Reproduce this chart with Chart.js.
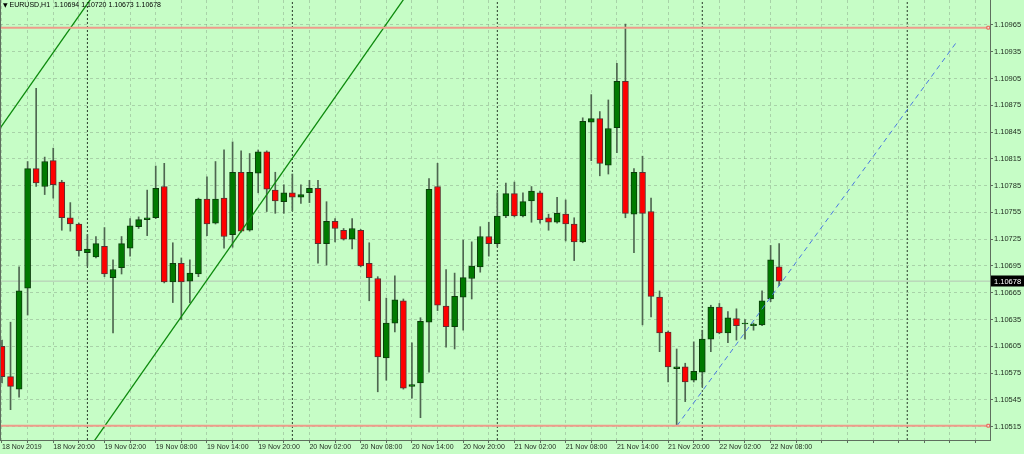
<!DOCTYPE html>
<html>
<head>
<meta charset="utf-8">
<script src="https://cdn.jsdelivr.net/npm/chart.js@4.4.0/dist/chart.umd.min.js"></script>
<style>
  html, body { margin: 0; padding: 0; background: #c6fdc6; }
  #wrap { position: relative; width: 1024px; height: 454px; overflow: hidden; }
  #title { position: absolute; left: 3px; top: 1px; font: 7px "Liberation Sans", sans-serif; color: #000; white-space: pre; }
  #title .arr { font: 6px "DejaVu Sans", sans-serif; }
</style>
</head>
<body>
<div id="wrap">
  <canvas id="chart" width="1024" height="454"></canvas>
  <div id="title"><span class="arr">▼</span> EURUSD,H1  1.10694 1.10720 1.10673 1.10678</div>
</div>
<script>
// EURUSD H1, bars from 18 Nov 2019 14:00 to 22 Nov 09:00
const opens = [1.10605,1.10571,1.10557,1.10670,1.10804,1.10784,1.10813,1.10789,1.10749,1.10742,
  1.10710,1.10705,1.10717,1.10682,1.10693,1.10715,1.10739,1.10747,1.10749,1.10784,
  1.10677,1.10698,1.10678,1.10686,1.10770,1.10743,1.10771,1.10730,1.10800,1.10735,
  1.10799,1.10823,1.10780,1.10767,1.10777,1.10772,1.10777,1.10782,1.10720,1.10745,
  1.10735,1.10725,1.10735,1.10698,1.10681,1.10592,1.10631,1.10656,1.10560,1.10564,
  1.10632,1.10784,1.10650,1.10627,1.10660,1.10681,1.10694,1.10728,1.10720,1.10751,
  1.10776,1.10751,1.10768,1.10777,1.10749,1.10744,1.10753,1.10742,1.10722,1.10856,
  1.10860,1.10808,1.10850,1.10902,1.10753,1.10800,1.10756,1.10660,1.10621,1.10580,
  1.10582,1.10567,1.10576,1.10613,1.10649,1.10620,1.10636,1.10630,1.10628,1.10629,
  1.10658,1.10694];
const highs = [1.10612,1.10632,1.10694,1.10812,1.10894,1.10817,1.10827,1.10791,1.10766,1.10743,
  1.10730,1.10728,1.10738,1.10702,1.10728,1.10748,1.10750,1.10780,1.10807,1.10810,
  1.10721,1.10704,1.10702,1.10771,1.10795,1.10812,1.10825,1.10834,1.10824,1.10821,
  1.10825,1.10824,1.10800,1.10786,1.10798,1.10786,1.10791,1.10791,1.10767,1.10748,
  1.10737,1.10748,1.10736,1.10721,1.10683,1.10659,1.10684,1.10658,1.10609,1.10637,
  1.10793,1.10810,1.10691,1.10687,1.10724,1.10722,1.10739,1.10744,1.10777,1.10788,
  1.10789,1.10777,1.10784,1.10779,1.10753,1.10772,1.10769,1.10749,1.10861,1.10887,
  1.10868,1.10881,1.10922,1.10966,1.10804,1.10818,1.10771,1.10667,1.10622,1.10602,
  1.10586,1.10610,1.10623,1.10651,1.10653,1.10644,1.10647,1.10635,1.10631,1.10667,
  1.10718,1.10720];
const lows = [1.10564,1.10534,1.10548,1.10640,1.10784,1.10775,1.10771,1.10735,1.10734,1.10706,
  1.10695,1.10704,1.10683,1.10620,1.10686,1.10706,1.10737,1.10729,1.10748,1.10676,
  1.10654,1.10635,1.10654,1.10683,1.10729,1.10742,1.10715,1.10716,1.10733,1.10734,
  1.10777,1.10756,1.10754,1.10754,1.10757,1.10765,1.10766,1.10698,1.10696,1.10722,
  1.10724,1.10714,1.10694,1.10656,1.10554,1.10567,1.10621,1.10557,1.10547,1.10525,
  1.10576,1.10645,1.10604,1.10602,1.10623,1.10658,1.10688,1.10706,1.10717,1.10749,
  1.10750,1.10750,1.10744,1.10743,1.10735,1.10743,1.10723,1.10701,1.10721,1.10813,
  1.10796,1.10798,1.10822,1.10749,1.10710,1.10629,1.10638,1.10599,1.10565,1.10516,
  1.10543,1.10565,1.10560,1.10599,1.10619,1.10609,1.10612,1.10613,1.10623,1.10628,
  1.10655,1.10673];
const closes = [1.10571,1.10560,1.10667,1.10804,1.10788,1.10812,1.10786,1.10749,1.10742,1.10712,
  1.10714,1.10720,1.10686,1.10691,1.10720,1.10740,1.10747,1.10749,1.10782,1.10677,
  1.10698,1.10677,1.10687,1.10770,1.10742,1.10770,1.10728,1.10800,1.10734,1.10800,
  1.10823,1.10781,1.10768,1.10777,1.10772,1.10775,1.10782,1.10720,1.10745,1.10737,
  1.10725,1.10737,1.10695,1.10682,1.10593,1.10631,1.10657,1.10558,1.10562,1.10633,
  1.10781,1.10651,1.10627,1.10661,1.10682,1.10695,1.10728,1.10720,1.10751,1.10776,
  1.10751,1.10767,1.10779,1.10747,1.10744,1.10754,1.10742,1.10722,1.10857,1.10860,
  1.10810,1.10849,1.10902,1.10754,1.10800,1.10754,1.10661,1.10620,1.10582,1.10582,
  1.10565,1.10577,1.10613,1.10649,1.10620,1.10637,1.10628,1.10630,1.10630,1.10656,
  1.10702,1.10678];

// time axis labels (bar index -> text), every 6 bars
const labelBars = [0,6,12,18,24,30,36,42,48,54,60,66,72,78,84,90];
const labelTexts = ['18 Nov 2019','18 Nov 20:00','19 Nov 02:00','19 Nov 08:00','19 Nov 14:00',
  '19 Nov 20:00','20 Nov 02:00','20 Nov 08:00','20 Nov 14:00','20 Nov 20:00','21 Nov 02:00',
  '21 Nov 08:00','21 Nov 14:00','21 Nov 20:00','22 Nov 02:00','22 Nov 08:00'];
const gridBars = [];
for (let i = 0; i <= 114; i += 3) gridBars.push(i);

const priceTicks = [1.10515,1.10545,1.10575,1.10605,1.10635,1.10665,1.10695,1.10725,
  1.10755,1.10785,1.10815,1.10845,1.10875,1.10905,1.10935,1.10965];

// day separators (bar index of 00:00)
const daySeps = [10, 34, 58, 82, 106];
// horizontal levels and trend lines (bar index, price)
const levels = [1.10962, 1.10516];
const channelUpper = [{x: -2, y: 1.10825}, {x: 12, y: 1.11016}];
const channelLower = [{x: 10, y: 1.10488}, {x: 48, y: 1.11007}];
const blueTrend = [{x: 79.04, y: 1.10516}, {x: 111.94, y: 1.10948}];

const xMin = -0.234, xMax = 115.69;
const yMin = 1.10500, yMax = 1.10993;
const bid = closes[closes.length - 1];

const bullCol = '#007a00', bearCol = '#ff0000';
const fnt = { family: 'Liberation Sans', size: 7.5 };

const datasets = [];
datasets.push({
  type: 'bar', label: 'body', order: 1, grouped: false,
  data: opens.map((o, i) => ({x: i, y: [o, closes[i]]})),
  barThickness: 6, minBarLength: 1, borderSkipped: false, borderWidth: 1,
  backgroundColor: c => closes[c.dataIndex] >= opens[c.dataIndex] ? bullCol : bearCol,
  borderColor: c => closes[c.dataIndex] >= opens[c.dataIndex] ? '#0b3d0b' : '#5a3030'
});
datasets.push({
  type: 'bar', label: 'wick', order: 2, grouped: false,
  data: lows.map((l, i) => ({x: i, y: [l, highs[i]]})),
  barThickness: 1, backgroundColor: '#4e6650'
});
levels.forEach(v => datasets.push({
  type: 'line', order: 0, data: [{x: xMin, y: v}, {x: xMax - 0.2, y: v}],
  borderColor: '#ee9c8a', borderWidth: 2,
  pointRadius: [0, 2], pointStyle: 'rect', pointBackgroundColor: '#fbe0d8',
  pointBorderColor: '#e06050', pointBorderWidth: 1
}));
datasets.push({
  type: 'line', order: 3, data: [{x: xMin, y: bid}, {x: xMax, y: bid}],
  borderColor: '#b4c4b4', borderWidth: 1, pointRadius: 0
});
daySeps.forEach(d => datasets.push({
  type: 'line', order: 4, data: [{x: d, y: yMin}, {x: d, y: yMax}],
  borderColor: '#2a3a2a', borderWidth: 1, borderDash: [2, 2], pointRadius: 0
}));
[channelUpper, channelLower].forEach(pts => datasets.push({
  type: 'line', order: 0, data: pts, borderColor: '#0d8a0d', borderWidth: 1.3, pointRadius: 0, clip: 0
}));
datasets.push({
  type: 'line', order: 0, data: blueTrend, borderColor: '#4a78e0', borderWidth: 1,
  borderDash: [5, 4], pointRadius: 0
});

const noPad = s => { s.paddingLeft = 0; s.paddingRight = 0; s.paddingTop = 0; s.paddingBottom = 0; };

const frame = {
  id: 'frame',
  afterDraw(chart) {
    const ctx = chart.ctx, a = chart.chartArea, y = chart.scales.y;
    ctx.save();
    ctx.strokeStyle = '#5e6e5e';
    ctx.lineWidth = 1;
    ctx.beginPath();
    ctx.moveTo(0.5, a.top); ctx.lineTo(0.5, a.bottom);
    ctx.stroke();
    // bid price box on the price axis
    const py = Math.round(y.getPixelForValue(bid));
    ctx.fillStyle = '#000';
    ctx.fillRect(a.right + 1, py - 5.5, 33, 11);
    ctx.fillStyle = '#fff';
    ctx.font = '7.5px "Liberation Sans"';
    ctx.textBaseline = 'middle';
    ctx.fillText(bid.toFixed(5), a.right + 4, py + 0.5);
    ctx.restore();
  }
};

new Chart(document.getElementById('chart'), {
  type: 'bar',
  data: { datasets },
  plugins: [frame],
  options: {
    responsive: false, animation: false,
    layout: { padding: 0, autoPadding: false },
    plugins: { legend: { display: false }, tooltip: { enabled: false } },
    scales: {
      x: {
        type: 'linear', position: 'bottom', min: xMin, max: xMax, offset: false,
        afterBuildTicks: s => { s.ticks = gridBars.map(v => ({value: v})); },
        afterFit: s => { s.height = 14; noPad(s); },
        ticks: {
          autoSkip: false, maxRotation: 0, align: 'start', padding: 0,
          font: {family: 'Liberation Sans', size: 7}, color: '#1e2a1e',
          callback: v => { const k = labelBars.indexOf(v); return k >= 0 ? labelTexts[k] : ''; }
        },
        grid: { offset: false, color: 'rgba(120,140,120,0.38)', tickColor: '#5e6e5e', tickLength: 3, lineWidth: 1 },
        border: { display: true, color: '#5e6e5e', width: 1, dash: [3, 3] }
      },
      y: {
        type: 'linear', position: 'right', min: yMin, max: yMax,
        afterBuildTicks: s => { s.ticks = priceTicks.map(v => ({value: v})); },
        afterFit: s => { s.width = 34; noPad(s); },
        ticks: {
          autoSkip: false, padding: 1, font: fnt, color: '#1e2a1e',
          callback: v => v.toFixed(5)
        },
        grid: { color: 'rgba(120,140,120,0.38)', tickColor: '#5e6e5e', tickLength: 3, lineWidth: 1 },
        border: { display: true, color: '#5e6e5e', width: 1, dash: [3, 3] }
      }
    }
  }
});
</script>
</body>
</html>
